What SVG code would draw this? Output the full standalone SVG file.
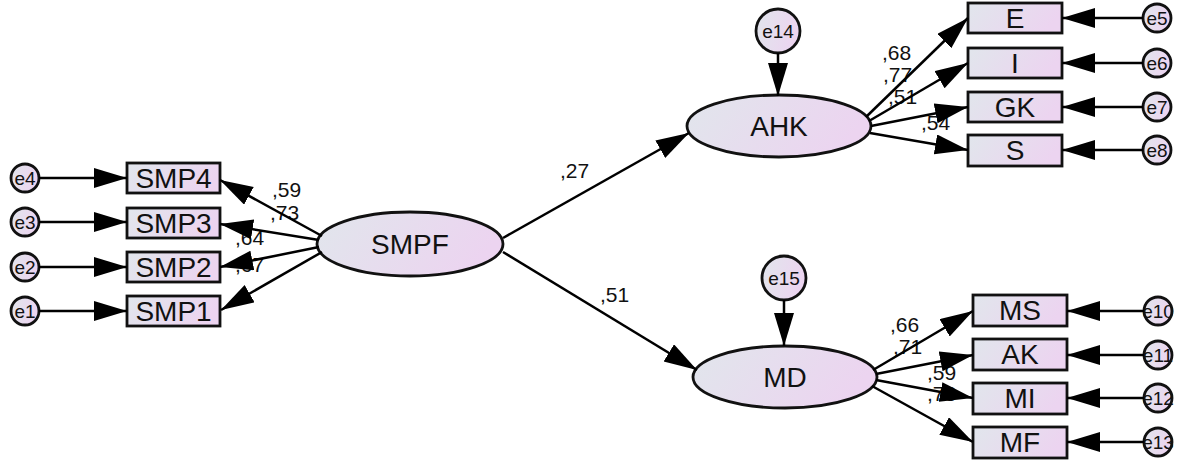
<svg xmlns="http://www.w3.org/2000/svg" width="1180" height="467" viewBox="0 0 1180 467">
<defs>
<linearGradient id="g" x1="0" y1="0" x2="1" y2="0.25">
<stop offset="0" stop-color="#e1e6ec"/>
<stop offset="1" stop-color="#ecd4f0"/>
</linearGradient>
<marker id="ah" markerUnits="userSpaceOnUse" markerWidth="36" markerHeight="22" refX="33" refY="10" orient="auto">
<path d="M0,0 L33,10 L0,20 z" fill="#000"/>
</marker>
</defs>
<style>
.n{fill:url(#g);stroke:#111;stroke-width:2.8}
.t{font-family:"Liberation Sans",Arial,sans-serif;fill:#111;text-anchor:middle}
.big{font-size:28px}
.sm{font-size:19px}
.lab{font-family:"Liberation Sans",Arial,sans-serif;font-size:21px;fill:#111}
.c line{stroke:#000;stroke-width:2.5;marker-end:url(#ah)}
</style>
<rect width="1180" height="467" fill="#fff"/>

<g id="labels">
<text class="lab" x="272" y="197">,59</text>
<text class="lab" x="270" y="220">,73</text>
<text class="lab" x="235" y="245">,64</text>
<text class="lab" x="235" y="272">,67</text>
<text class="lab" x="560" y="178">,27</text>
<text class="lab" x="600" y="302">,51</text>
<text class="lab" x="882" y="60">,68</text>
<text class="lab" x="883" y="82">,77</text>
<text class="lab" x="888" y="104">,51</text>
<text class="lab" x="921" y="130">,54</text>
<text class="lab" x="890" y="332">,66</text>
<text class="lab" x="893" y="354">,71</text>
<text class="lab" x="927" y="380">,59</text>
<text class="lab" x="927" y="401">,73</text>
</g>

<g id="SMPF"><ellipse class="n" cx="410" cy="244" rx="93" ry="32"/><text class="t big" x="410" y="254">SMPF</text></g>
<g id="AHK"><ellipse class="n" cx="779" cy="126" rx="92" ry="31"/><text class="t big" x="779" y="136">AHK</text></g>
<g id="MD"><ellipse class="n" cx="785" cy="377" rx="92" ry="31"/><text class="t big" x="785" y="387">MD</text></g>

<g id="SMP4"><rect class="n" x="127" y="163" width="93" height="30"/><text class="t big" x="173.5" y="188">SMP4</text></g>
<g id="SMP3"><rect class="n" x="127" y="208" width="93" height="30"/><text class="t big" x="173.5" y="233">SMP3</text></g>
<g id="SMP2"><rect class="n" x="127" y="252" width="93" height="30"/><text class="t big" x="173.5" y="277">SMP2</text></g>
<g id="SMP1"><rect class="n" x="127" y="296" width="93" height="30"/><text class="t big" x="173.5" y="321">SMP1</text></g>

<g id="E"><rect class="n" x="968" y="3" width="94" height="30"/><text class="t big" x="1015" y="28">E</text></g>
<g id="I"><rect class="n" x="968" y="48" width="94" height="30"/><text class="t big" x="1015" y="73">I</text></g>
<g id="GK"><rect class="n" x="968" y="92" width="94" height="30"/><text class="t big" x="1015" y="117">GK</text></g>
<g id="S"><rect class="n" x="968" y="135" width="94" height="31"/><text class="t big" x="1015" y="160">S</text></g>

<g id="MS"><rect class="n" x="973" y="295" width="94" height="31"/><text class="t big" x="1020" y="320">MS</text></g>
<g id="AK"><rect class="n" x="973" y="339" width="94" height="31"/><text class="t big" x="1020" y="364">AK</text></g>
<g id="MI"><rect class="n" x="973" y="383" width="94" height="31"/><text class="t big" x="1020" y="408">MI</text></g>
<g id="MF"><rect class="n" x="973" y="427" width="94" height="31"/><text class="t big" x="1020" y="452">MF</text></g>

<g id="e1"><circle class="n" cx="25" cy="311" r="14"/><text class="t sm" x="25" y="318">e1</text></g>
<g id="e2"><circle class="n" cx="25" cy="267" r="14"/><text class="t sm" x="25" y="274">e2</text></g>
<g id="e3"><circle class="n" cx="25" cy="222" r="14"/><text class="t sm" x="25" y="229">e3</text></g>
<g id="e4"><circle class="n" cx="25" cy="178" r="14"/><text class="t sm" x="25" y="185">e4</text></g>

<g id="e5"><circle class="n" cx="1157" cy="18" r="14"/><text class="t sm" x="1157" y="25">e5</text></g>
<g id="e6"><circle class="n" cx="1157" cy="63" r="14"/><text class="t sm" x="1157" y="70">e6</text></g>
<g id="e7"><circle class="n" cx="1157" cy="107" r="14"/><text class="t sm" x="1157" y="114">e7</text></g>
<g id="e8"><circle class="n" cx="1157" cy="150" r="14"/><text class="t sm" x="1157" y="157">e8</text></g>

<g id="e10"><circle class="n" cx="1158" cy="311" r="14"/><text class="t sm" x="1158" y="318">e10</text></g>
<g id="e11"><circle class="n" cx="1158" cy="355" r="14"/><text class="t sm" x="1158" y="362">e11</text></g>
<g id="e12"><circle class="n" cx="1158" cy="398" r="14"/><text class="t sm" x="1158" y="405">e12</text></g>
<g id="e13"><circle class="n" cx="1158" cy="442" r="14"/><text class="t sm" x="1158" y="449">e13</text></g>

<g id="e14"><circle class="n" cx="778" cy="31" r="22"/><text class="t sm" x="778" y="38">e14</text></g>
<g id="e15"><circle class="n" cx="784" cy="278" r="22"/><text class="t sm" x="784" y="285">e15</text></g>

<g id="connectors" class="c">
<line x1="39" y1="178" x2="127" y2="178"/>
<line x1="39" y1="222" x2="127" y2="222"/>
<line x1="39" y1="267" x2="127" y2="267"/>
<line x1="39" y1="311" x2="127" y2="311"/>
<line x1="322" y1="236" x2="220" y2="180"/>
<line x1="319" y1="240" x2="220" y2="224"/>
<line x1="319" y1="247" x2="220" y2="267"/>
<line x1="322" y1="252" x2="221" y2="310"/>
<line x1="503" y1="238" x2="689" y2="133"/>
<line x1="503" y1="252" x2="697" y2="370"/>
<line x1="866" y1="117" x2="968" y2="18"/>
<line x1="869" y1="121" x2="968" y2="63"/>
<line x1="871" y1="126" x2="968" y2="107"/>
<line x1="870" y1="133" x2="968" y2="150"/>
<line x1="873" y1="370" x2="973" y2="311"/>
<line x1="876" y1="374" x2="973" y2="355"/>
<line x1="876" y1="380" x2="973" y2="398"/>
<line x1="872" y1="386" x2="973" y2="442"/>
<line x1="1143" y1="18" x2="1062" y2="18"/>
<line x1="1143" y1="63" x2="1062" y2="63"/>
<line x1="1143" y1="107" x2="1062" y2="107"/>
<line x1="1143" y1="150" x2="1062" y2="150"/>
<line x1="1144" y1="311" x2="1067" y2="311"/>
<line x1="1144" y1="355" x2="1067" y2="355"/>
<line x1="1144" y1="398" x2="1067" y2="398"/>
<line x1="1144" y1="442" x2="1067" y2="442"/>
<line x1="778" y1="53" x2="778" y2="96"/>
<line x1="784" y1="300" x2="784" y2="346"/>
</g>
</svg>
